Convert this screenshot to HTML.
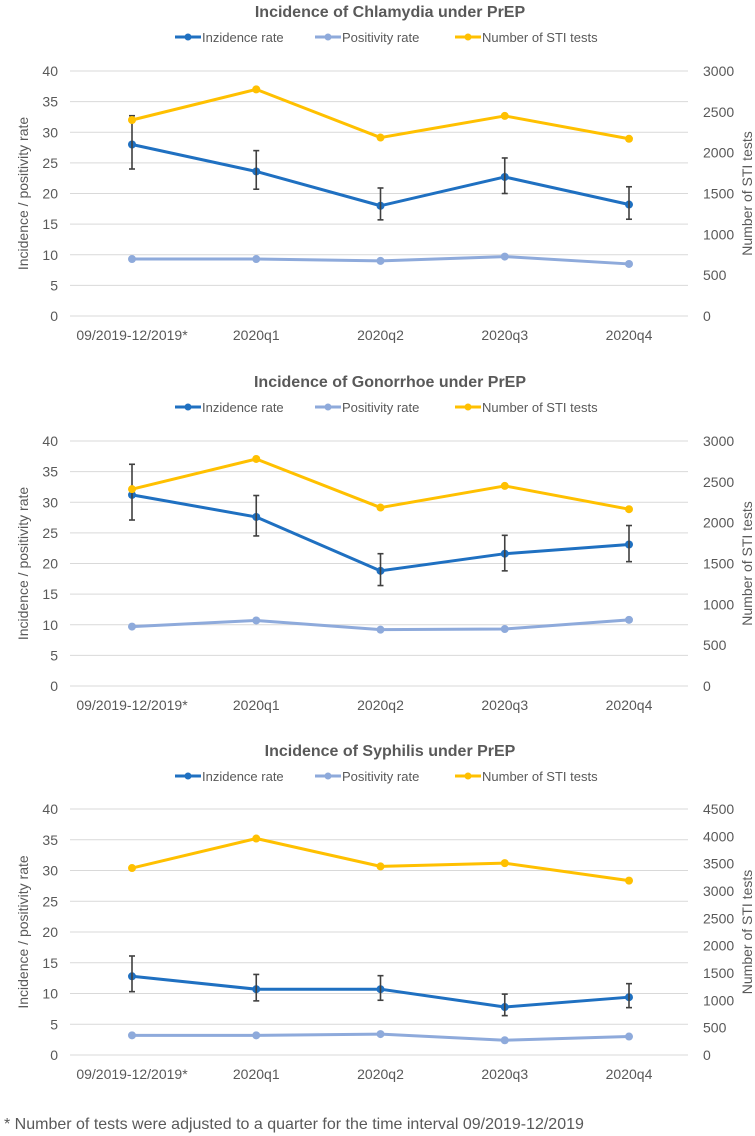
<!DOCTYPE html>
<html><head><meta charset="utf-8"><style>
body{margin:0;background:#fff;}
svg{display:block;font-family:"Liberation Sans",sans-serif;}
</style></head><body>
<svg id="root" width="755" height="1136" viewBox="0 0 755 1136">
<text x="4" y="1129" font-size="16" fill="#595959">* Number of tests were adjusted to a quarter for the time interval 09/2019-12/2019</text>
</svg>
<script>
const categories = ["09/2019-12/2019*","2020q1","2020q2","2020q3","2020q4"];
const chartTitles = ["Incidence of Chlamydia under PrEP","Incidence of Gonorrhoe under PrEP","Incidence of Syphilis under PrEP"];
const leftTicks = [0,5,10,15,20,25,30,35,40];
const rightTicks1 = [0,500,1000,1500,2000,2500,3000];
const rightTicks2 = [0,500,1000,1500,2000,2500,3000];
const rightTicks3 = [0,500,1000,1500,2000,2500,3000,3500,4000,4500];
const incidence1 = [28.0,23.6,18.0,22.7,18.2];
const incLow1 = [24.0,20.7,15.7,20.0,15.8];
const incHigh1 = [32.7,27.0,20.9,25.8,21.1];
const positivity1 = [9.3,9.3,9.0,9.7,8.5];
const tests1 = [2400,2775,2185,2450,2170];
const incidence2 = [31.2,27.6,18.8,21.6,23.1];
const incLow2 = [27.1,24.5,16.4,18.8,20.3];
const incHigh2 = [36.2,31.1,21.6,24.6,26.2];
const positivity2 = [9.7,10.7,9.2,9.3,10.8];
const tests2 = [2410,2780,2185,2450,2165];
const incidence3 = [12.8,10.7,10.7,7.8,9.4];
const incLow3 = [10.3,8.8,8.9,6.4,7.7];
const incHigh3 = [16.1,13.1,12.9,9.9,11.6];
const positivity3 = [3.2,3.2,3.4,2.4,3.0];
const tests3 = [3420,3960,3450,3510,3190];

const NS="http://www.w3.org/2000/svg";
const root=document.getElementById('root');
function mk(tag,attrs,parent,txt){const e=document.createElementNS(NS,tag);for(const k in attrs)e.setAttribute(k,attrs[k]);if(txt!==undefined)e.textContent=txt;parent.appendChild(e);return e;}
const BLUE="#1f70c1",LIGHT="#8eaadb",YEL="#ffc000",GRID="#d9d9d9",TXT="#595959";
const charts=[
 {top:71,bot:316,titleY:17,legY:41,xlY:340,rt:rightTicks1,inc:incidence1,lo:incLow1,hi:incHigh1,pos:positivity1,tests:tests1},
 {top:441,bot:686,titleY:387,legY:411,xlY:710,rt:rightTicks2,inc:incidence2,lo:incLow2,hi:incHigh2,pos:positivity2,tests:tests2},
 {top:809,bot:1055,titleY:756,legY:780,xlY:1079,rt:rightTicks3,inc:incidence3,lo:incLow3,hi:incHigh3,pos:positivity3,tests:tests3}
];
const x0=70,x1=688;
function xs(i){return 132+i*124.25;}
charts.forEach((c,ci)=>{
 const g=mk('g',{},root);
 
 
 const ly=v=>c.bot-(v-leftTicks[0])/(leftTicks[leftTicks.length-1]-leftTicks[0])*(c.bot-c.top);
 const rmax=c.rt[c.rt.length-1];
 const ry=v=>c.bot-v/rmax*(c.bot-c.top);
 const t=mk('text',{x:390,y:c.titleY,'text-anchor':'middle','font-size':'16','font-weight':'bold',fill:TXT},g,chartTitles[ci]);
 
 
 const leg=[["Inzidence rate",BLUE,175],["Positivity rate",LIGHT,315],["Number of STI tests",YEL,455]];
 leg.forEach(l=>{
  const lg=mk('g',{},g);
  
  
  mk('line',{x1:l[2],x2:l[2]+26,y1:c.legY-4,y2:c.legY-4,stroke:l[1],'stroke-width':3},lg);
  mk('circle',{cx:l[2]+13,cy:c.legY-4,r:3.5,fill:l[1]},lg);
  mk('text',{x:l[2]+27,y:c.legY+1,'font-size':'13',fill:TXT},lg,l[0]);
 });
 leftTicks.forEach(v=>{
  const gl=mk('line',{x1:x0,x2:x1,y1:ly(v),y2:ly(v),stroke:GRID,'stroke-width':1},g);
  
  
  const tl=mk('text',{x:58,y:ly(v)+5,'text-anchor':'end','font-size':'14',fill:TXT},g,String(v));
  
  
 });
 c.rt.forEach(v=>{
  const tl=mk('text',{x:703,y:ry(v)+5,'font-size':'14',fill:TXT},g,String(v));
  
  
 });
 const my=(c.top+c.bot)/2;
 const yt=mk('text',{x:0,y:0,transform:`translate(28,${my}) rotate(-90)`,'text-anchor':'middle','font-size':'14',fill:TXT},g,"Incidence / positivity rate");
 
 
 const yr=mk('text',{x:0,y:0,transform:`translate(752,${my}) rotate(-90)`,'text-anchor':'middle','font-size':'14',fill:TXT},g,"Number of STI tests");
 
 
 categories.forEach((cat,i)=>{
  const tl=mk('text',{x:xs(i),y:c.xlY,'text-anchor':'middle','font-size':'14',fill:TXT},g,cat);
  
  
 });
 function series(vals,yf,col,name){
  const p=mk('polyline',{points:vals.map((v,i)=>xs(i)+','+yf(v)).join(' '),fill:'none',stroke:col,'stroke-width':3,'stroke-linejoin':'round'},g);
  
  
  vals.forEach((v,i)=>{
   const d=mk('circle',{cx:xs(i),cy:yf(v),r:4,fill:col},g);
   
   
  });
 }
 series(c.pos,ly,LIGHT,'positivity');
 series(c.inc,ly,BLUE,'incidence');
 c.inc.forEach((v,i)=>{
  const eb=mk('g',{stroke:'#404040','stroke-width':1.6},g);
  
  
  const x=xs(i);
  mk('line',{x1:x,x2:x,y1:ly(c.lo[i]),y2:ly(c.hi[i])},eb);
  mk('line',{x1:x-3,x2:x+3,y1:ly(c.lo[i]),y2:ly(c.lo[i])},eb);
  mk('line',{x1:x-3,x2:x+3,y1:ly(c.hi[i]),y2:ly(c.hi[i])},eb);
 });
 series(c.tests,ry,YEL,'tests');
});
</script>
</body></html>
